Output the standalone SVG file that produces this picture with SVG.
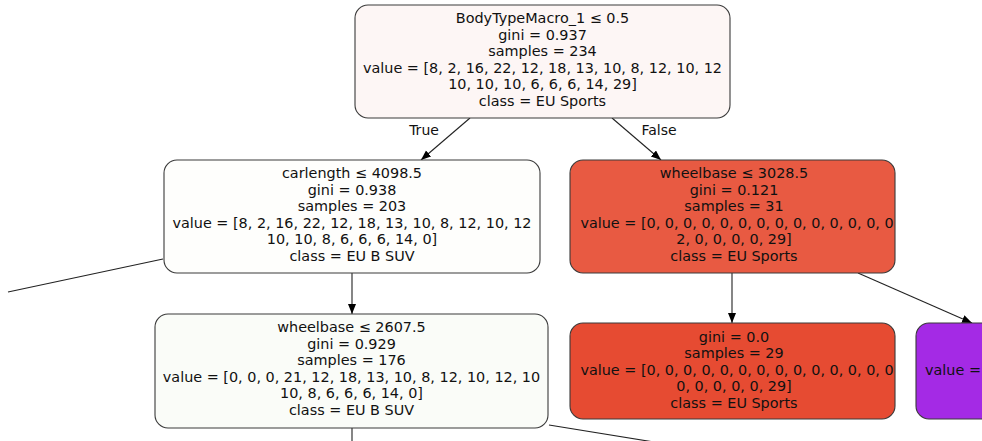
<svg xmlns="http://www.w3.org/2000/svg" width="982" height="441" viewBox="0 0 982 441">
<style>
.box{stroke:#3a3a3a;stroke-width:1.1}
text{font-family:"DejaVu Sans",Verdana,sans-serif;font-size:14.4px;fill:#111;text-anchor:middle}
.lbl{font-size:14px}
.edge{stroke:#222;stroke-width:1.1;fill:none}
</style>
<defs>
<marker id="arr" markerUnits="userSpaceOnUse" markerWidth="11" markerHeight="9" refX="10" refY="4" orient="auto">
<path d="M0,0 L10,4 L0,8 z" fill="#000"/>
</marker>
</defs>
<rect width="982" height="441" fill="#fff"/>
<g id="edges">
<line class="edge" x1="470" y1="118" x2="421" y2="160" marker-end="url(#arr)"/>
<line class="edge" x1="612" y1="118" x2="661" y2="160" marker-end="url(#arr)"/>
<line class="edge" x1="352" y1="273" x2="352" y2="314" marker-end="url(#arr)"/>
<line class="edge" x1="732" y1="273" x2="732" y2="323" marker-end="url(#arr)"/>
<line class="edge" x1="858" y1="273" x2="972" y2="323" marker-end="url(#arr)"/>
<line class="edge" x1="163" y1="259" x2="8" y2="292"/>
<line class="edge" x1="352" y1="428" x2="352" y2="445"/>
<line class="edge" x1="549" y1="425" x2="660" y2="443"/>
<text class="lbl" x="424" y="135">True</text>
<text class="lbl" x="659" y="135">False</text>
</g>
<g id="node0">
<rect class="box" x="355" y="5" width="375" height="113" rx="13" fill="#fdf6f5"/>
<text x="542.5" y="23">BodyTypeMacro_1 ≤ 0.5</text>
<text x="542.5" y="39.5">gini = 0.937</text>
<text x="542.5" y="56">samples = 234</text>
<text x="542.5" y="72.5">value = [8, 2, 16, 22, 12, 18, 13, 10, 8, 12, 10, 12</text>
<text x="542.5" y="89">10, 10, 10, 6, 6, 6, 14, 29]</text>
<text x="542.5" y="105.5">class = EU Sports</text>
</g>
<g id="node1">
<rect class="box" x="164" y="160" width="376" height="113" rx="13" fill="#fefefc"/>
<text x="352" y="178">carlength ≤ 4098.5</text>
<text x="352" y="194.5">gini = 0.938</text>
<text x="352" y="211">samples = 203</text>
<text x="352" y="227.5">value = [8, 2, 16, 22, 12, 18, 13, 10, 8, 12, 10, 12</text>
<text x="352" y="244">10, 10, 8, 6, 6, 6, 14, 0]</text>
<text x="352" y="260.5">class = EU B SUV</text>
</g>
<g id="node2">
<rect class="box" x="570" y="160" width="325" height="113" rx="13" fill="#e85a42"/>
<text x="734" y="178">wheelbase ≤ 3028.5</text>
<text x="734" y="194.5">gini = 0.121</text>
<text x="734" y="211">samples = 31</text>
<text x="737" y="227.5">value = [0, 0, 0, 0, 0, 0, 0, 0, 0, 0, 0, 0, 0, 0</text>
<text x="734" y="244">2, 0, 0, 0, 0, 29]</text>
<text x="734" y="260.5">class = EU Sports</text>
</g>
<g id="node3">
<rect class="box" x="155" y="314" width="393" height="114" rx="13" fill="#fafcf8"/>
<text x="351.5" y="332">wheelbase ≤ 2607.5</text>
<text x="351.5" y="348.5">gini = 0.929</text>
<text x="351.5" y="365">samples = 176</text>
<text x="351.5" y="381.5">value = [0, 0, 0, 21, 12, 18, 13, 10, 8, 12, 10, 12, 10</text>
<text x="351.5" y="398">10, 8, 6, 6, 6, 14, 0]</text>
<text x="351.5" y="414.5">class = EU B SUV</text>
</g>
<g id="node4">
<rect class="box" x="570" y="323" width="325" height="96" rx="13" fill="#e64b32"/>
<text x="734" y="341.5">gini = 0.0</text>
<text x="734" y="358">samples = 29</text>
<text x="737" y="374.5">value = [0, 0, 0, 0, 0, 0, 0, 0, 0, 0, 0, 0, 0, 0</text>
<text x="734" y="391">0, 0, 0, 0, 0, 29]</text>
<text x="734" y="407.5">class = EU Sports</text>
</g>
<g id="node5">
<rect class="box" x="916" y="323" width="120" height="96" rx="13" fill="#a42ae5"/>
<text x="925" y="374.5" style="text-anchor:start">value =</text>
</g>
</svg>
